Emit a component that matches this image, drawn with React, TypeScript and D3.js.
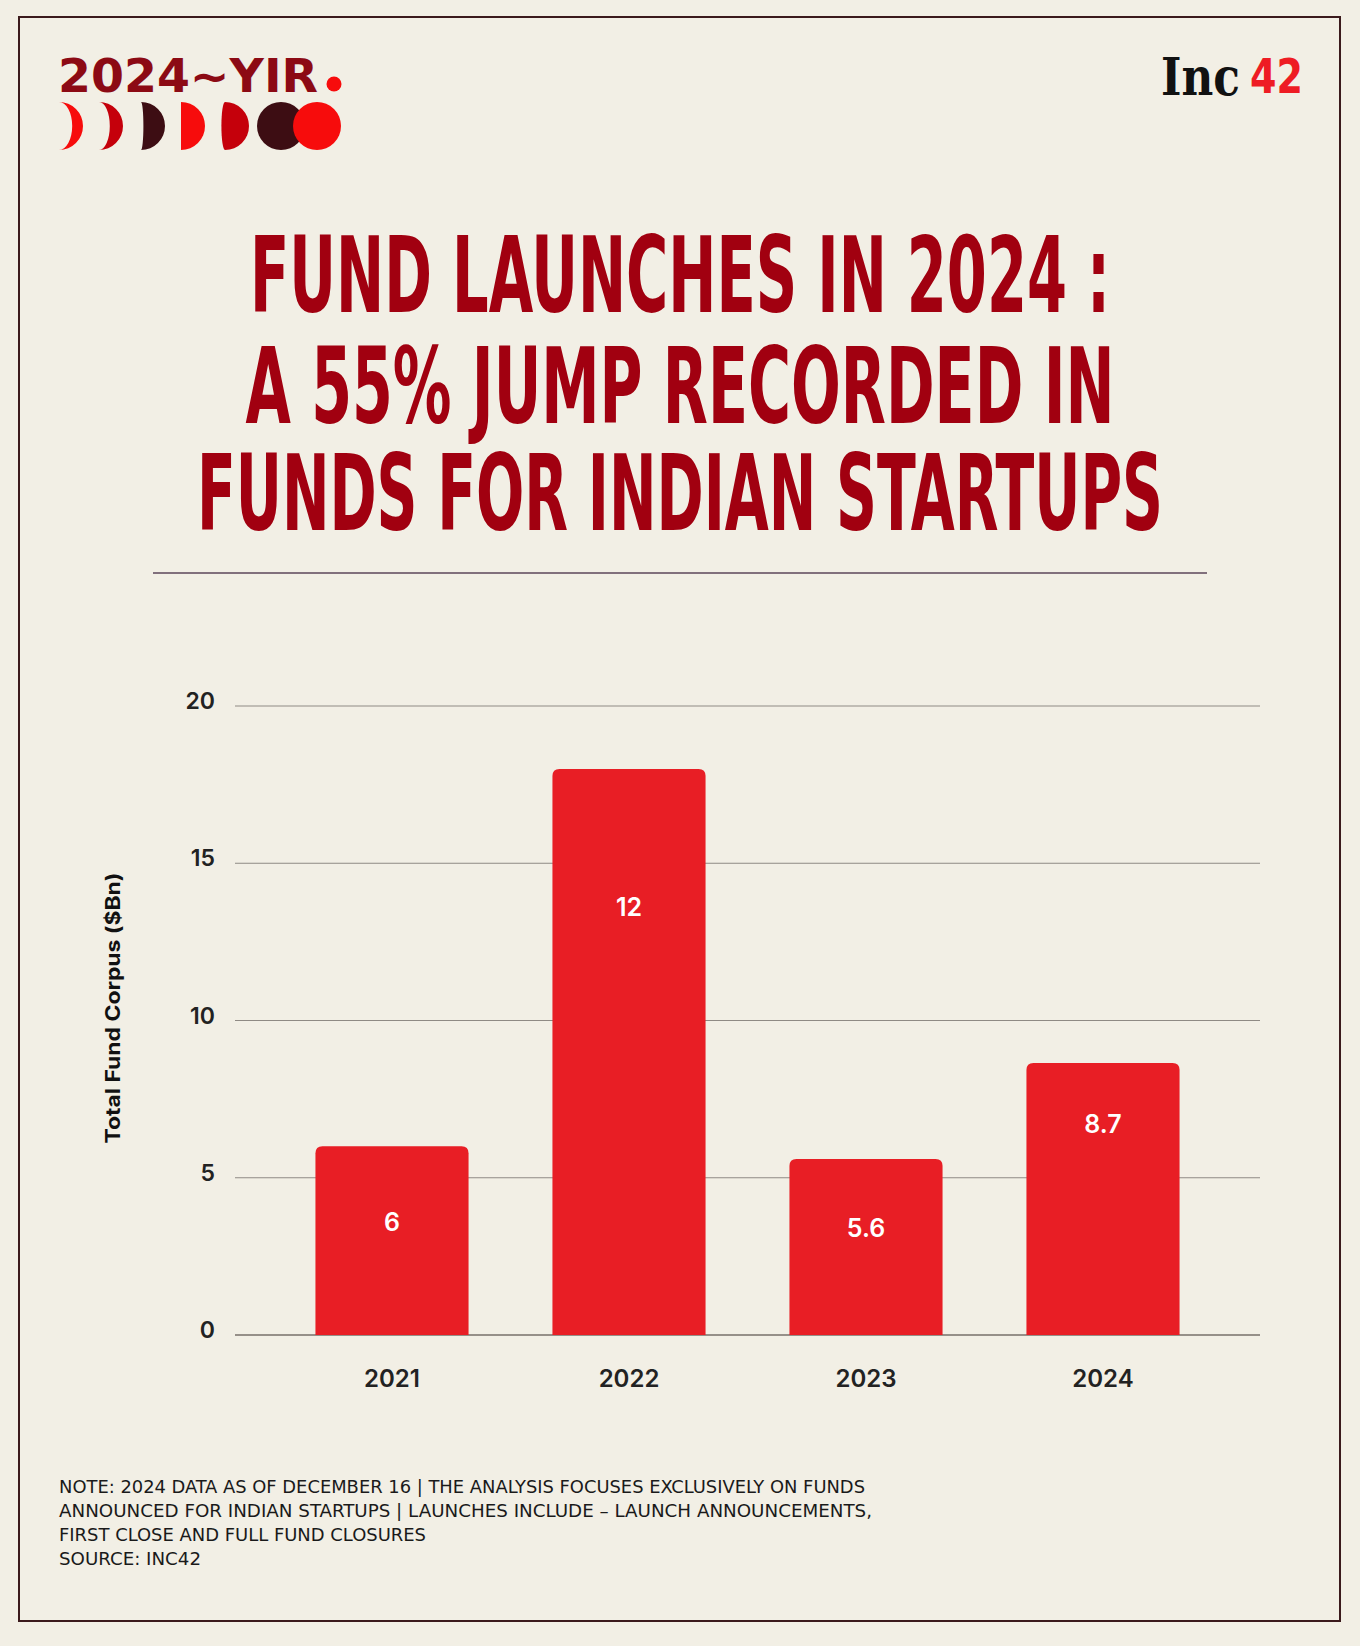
import React from "react";
import * as d3 from "d3";

const years = ["2021", "2022", "2023", "2024"];
const barValues = [6, 18, 5.6, 8.65];
const barLabels = ["6", "12", "5.6", "8.7"];
const labelAnchors = [3.6, 13.6, 3.4, 6.7];
const yTicks = [0, 5, 10, 15, 20];

const titleLines = [
  "FUND LAUNCHES IN 2024 :",
  "A 55% JUMP RECORDED IN",
  "FUNDS FOR INDIAN STARTUPS",
];
const noteLines = [
  "NOTE: 2024 DATA AS OF DECEMBER 16 | THE ANALYSIS FOCUSES EXCLUSIVELY ON FUNDS",
  "ANNOUNCED FOR INDIAN STARTUPS | LAUNCHES INCLUDE \u2013 LAUNCH ANNOUNCEMENTS,",
  "FIRST CLOSE AND FULL FUND CLOSURES",
  "SOURCE: INC42",
];

const W = 1360;
const H = 1646;
const BG = "#f2efe5";
const RED = "#e81e25";
const TITLE_RED = "#a10010";

function moonPath(x0: number, cy: number, r: number, k: number) {
  const top = `${x0},${cy - r}`;
  const bot = `${x0},${cy + r}`;
  let d = `M${top} A${r},${r} 0 0 1 ${bot}`;
  if (k === 0) d += ` L${top}`;
  else d += ` A${Math.abs(k) * r},${r} 0 0 ${k > 0 ? 0 : 1} ${top}`;
  return d + " Z";
}

export default function App() {
  const x = d3
    .scaleBand<string>()
    .domain(years)
    .range([273.5, 1221.5])
    .paddingInner(0.354)
    .paddingOuter(0.177);
  const y = d3.scaleLinear().domain([0, 20]).range([1335, 706]);
  const gx0 = 235;
  const gx1 = 1260;
  const bw = x.bandwidth();
  const rr = 7;

  const barPath = (xs: number, v: number) => {
    const yt = y(v);
    const yb = y(0);
    return `M${xs},${yb} L${xs},${yt + rr} Q${xs},${yt} ${xs + rr},${yt} L${xs + bw - rr},${yt} Q${xs + bw},${yt} ${xs + bw},${yt + rr} L${xs + bw},${yb} Z`;
  };

  const moons = [
    { x0: 59, k: 0.55, c: "#f70c0c" },
    { x0: 99, k: 0.45, c: "#c5000b" },
    { x0: 141, k: 0.1, c: "#3d0d13" },
    { x0: 181, k: 0, c: "#f70c0c" },
    { x0: 225, k: -0.15, c: "#c5000b" },
  ];

  const titleCfg = [
    { base: 312, len: 860 },
    { base: 423, len: 869 },
    { base: 530, len: 966 },
  ];
  const noteLens = [806, 813, 367, 142];
  const tScale = 1.25;
  const tSize = 106 / tScale;

  return (
    <div style={{ position: "absolute", left: 0, top: 0, width: W, height: H }}>
      <svg width={W} height={H} viewBox={`0 0 ${W} ${H}`} style={{ display: "block" }}>
        <rect x={0} y={0} width={W} height={H} fill={BG} />
        <rect x={19} y={17} width={1321} height={1604} fill="none" stroke="#3b1a1c" strokeWidth={2} />

        {/* YIR logo */}
        <text
          x={58}
          y={92}
          fontFamily="DejaVu Sans"
          fontWeight={700}
          fontSize={46}
          fill="#8c0a14"
          textLength={260}
          lengthAdjust="spacingAndGlyphs"
        >
          2024~YIR
        </text>
        <circle cx={334} cy={84} r={7.5} fill="#f70c0c" />
        {moons.map((m, i) => (
          <path key={i} d={moonPath(m.x0, 126, 24, m.k)} fill={m.c} />
        ))}
        <circle cx={281} cy={126} r={24} fill="#3d0d13" />
        <circle cx={317} cy={126} r={24} fill="#f70c0c" />

        {/* Inc42 logo */}
        <text
          x={1161}
          y={95}
          fontFamily="DejaVu Serif"
          fontWeight={700}
          fontSize={52}
          fill="#111"
          textLength={79}
          lengthAdjust="spacingAndGlyphs"
        >
          Inc
        </text>
        <text
          x={1250}
          y={93}
          fontFamily="DejaVu Sans"
          fontWeight={700}
          fontSize={48}
          fill="#ee1c24"
          textLength={53}
          lengthAdjust="spacingAndGlyphs"
        >
          42
        </text>

        {/* Title */}
        {titleLines.map((t, i) => (
          <g key={i} transform={`translate(680,${titleCfg[i].base}) scale(1,${tScale})`}>
            <text
              x={0}
              y={0}
              textAnchor="middle"
              fontFamily="'Liberation Sans Narrow', 'DejaVu Sans Condensed', sans-serif"
              fontWeight={700}
              fontSize={tSize}
              fill={TITLE_RED}
              textLength={titleCfg[i].len}
              lengthAdjust="spacingAndGlyphs"
            >
              {t}
            </text>
          </g>
        ))}
        <line x1={153} x2={1207} y1={573} y2={573} stroke="#5b4658" strokeWidth={1.5} />

        {/* Gridlines and y ticks */}
        {yTicks.map((t) => (
          <g key={t}>
            <line
              x1={gx0}
              x2={gx1}
              y1={y(t)}
              y2={y(t)}
              stroke={t === 0 ? "#77716a" : "#8f8a84"}
              strokeWidth={t === 0 ? 1.6 : 1}
            />
            <text
              x={215}
              y={y(t) + 3}
              textAnchor="end"
              fontFamily="Inter, sans-serif"
              fontWeight={600}
              fontSize={23}
              fill="#222"
            >
              {t}
            </text>
          </g>
        ))}

        {/* Bars */}
        {years.map((yr, i) => (
          <g key={yr}>
            <path d={barPath(x(yr) as number, barValues[i])} fill={RED} />
            <text
              x={(x(yr) as number) + bw / 2}
              y={y(labelAnchors[i])}
              dy="0.36em"
              textAnchor="middle"
              fontFamily="Inter, sans-serif"
              fontWeight={600}
              fontSize={25}
              fill="#ffffff"
            >
              {barLabels[i]}
            </text>
            <text
              x={(x(yr) as number) + bw / 2}
              y={1387}
              textAnchor="middle"
              fontFamily="Inter, sans-serif"
              fontWeight={600}
              fontSize={24}
              fill="#222"
            >
              {yr}
            </text>
          </g>
        ))}

        {/* Y axis title */}
        <text
          transform={`translate(120,1008) rotate(-90)`}
          textAnchor="middle"
          fontFamily="Inter, sans-serif"
          fontWeight={700}
          fontSize={20}
          fill="#111"
          textLength={271}
          lengthAdjust="spacingAndGlyphs"
        >
          Total Fund Corpus ($Bn)
        </text>

        {/* Footnote */}
        {noteLines.map((t, i) => (
          <text
            key={i}
            x={59}
            y={1493 + i * 24}
            fontFamily="'Liberation Sans Narrow', 'DejaVu Sans Condensed', sans-serif"
            fontSize={18}
            fill="#1a1a1a"
            textLength={noteLens[i]}
            lengthAdjust="spacingAndGlyphs"
          >
            {t}
          </text>
        ))}
      </svg>
    </div>
  );
}
